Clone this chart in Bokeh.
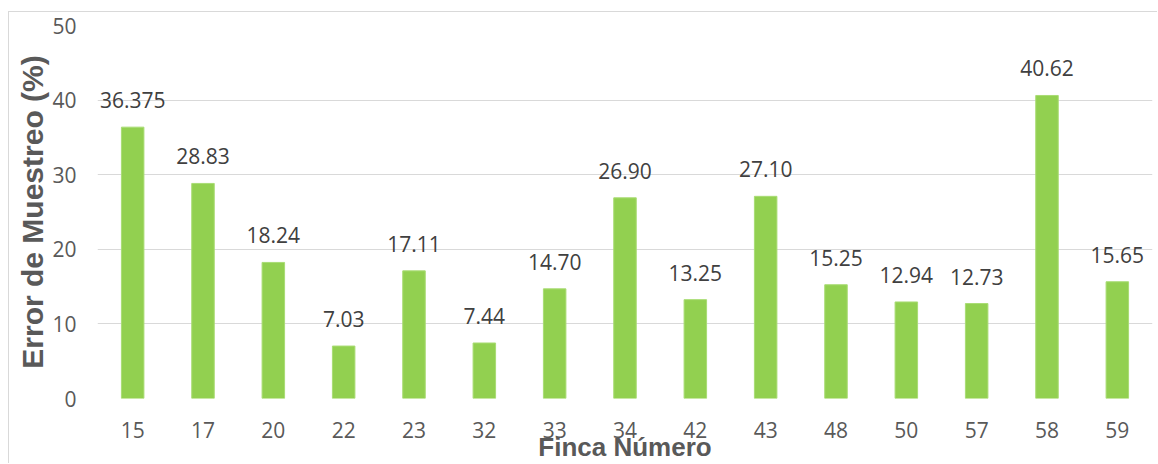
from bokeh.plotting import figure
from bokeh.models import ColumnDataSource, FactorRange, Range1d, LabelSet, FixedTicker
from bokeh.core.properties import value
from bokeh.embed import file_html
from bokeh.resources import INLINE

fincas = ["15", "17", "20", "22", "23", "32", "33", "34", "42", "43", "48", "50", "57", "58", "59"]
errores = [36.375, 28.83, 18.24, 7.03, 17.11, 7.44, 14.70, 26.90, 13.25, 27.10, 15.25, 12.94, 12.73, 40.62, 15.65]
etiquetas = ["36.375", "28.83", "18.24", "7.03", "17.11", "7.44", "14.70", "26.90", "13.25", "27.10",
             "15.25", "12.94", "12.73", "40.62", "15.65"]
y_ticks = [0, 10, 20, 30, 40, 50]

src = ColumnDataSource(data=dict(x=fincas, top=errores, label=etiquetas))

p = figure(x_range=FactorRange(factors=fincas, range_padding=0), y_range=Range1d(0, 50),
           width=1149, height=452, output_backend="svg", toolbar_location=None,
           min_border_left=88, min_border_right=6, min_border_top=13, min_border_bottom=65,
           styles={"margin-left": "8px", "margin-top": "11px",
                   "border-left": "1px solid #d9d9d9", "border-top": "1px solid #d9d9d9"})
p.outline_line_color = None
p.background_fill_color = "white"
p.border_fill_color = "white"

p.vbar(x="x", top="top", width=0.32, source=src, fill_color="#92D050", line_color="#A9DC74", line_width=1)

labels = LabelSet(x="x", y="top", text="label", source=src, text_align="center", text_baseline="bottom",
                  y_offset=19, text_font=value("Open Sans"), text_font_size="21px", text_color="#404040")
p.add_layout(labels)

p.xgrid.grid_line_color = None
p.ygrid.grid_line_color = "#d9d9d9"
p.ygrid.grid_line_width = 1
p.yaxis.ticker = FixedTicker(ticks=y_ticks)

for ax in (p.xaxis, p.yaxis):
    ax.axis_line_color = None
    ax.major_tick_line_color = None
    ax.minor_tick_line_color = None
    ax.major_label_text_font = "Open Sans"
    ax.major_label_text_font_size = "21px"
    ax.major_label_text_color = "#595959"
    ax.axis_label_text_font = "Liberation Sans"
    ax.axis_label_text_font_style = "bold"
    ax.axis_label_text_color = "#595959"

p.xaxis.axis_label = "Finca Número"
p.yaxis.axis_label = "Error de Muestreo (%)"
p.xaxis.axis_label_text_font_size = "26px"
p.yaxis.axis_label_text_font_size = "30px"
p.yaxis.major_label_standoff = 15
p.yaxis.axis_label_standoff = 0
p.xaxis.major_label_standoff = 17
p.xaxis.axis_label_standoff = -9

open("out.html", "w").write(file_html(p, INLINE))
